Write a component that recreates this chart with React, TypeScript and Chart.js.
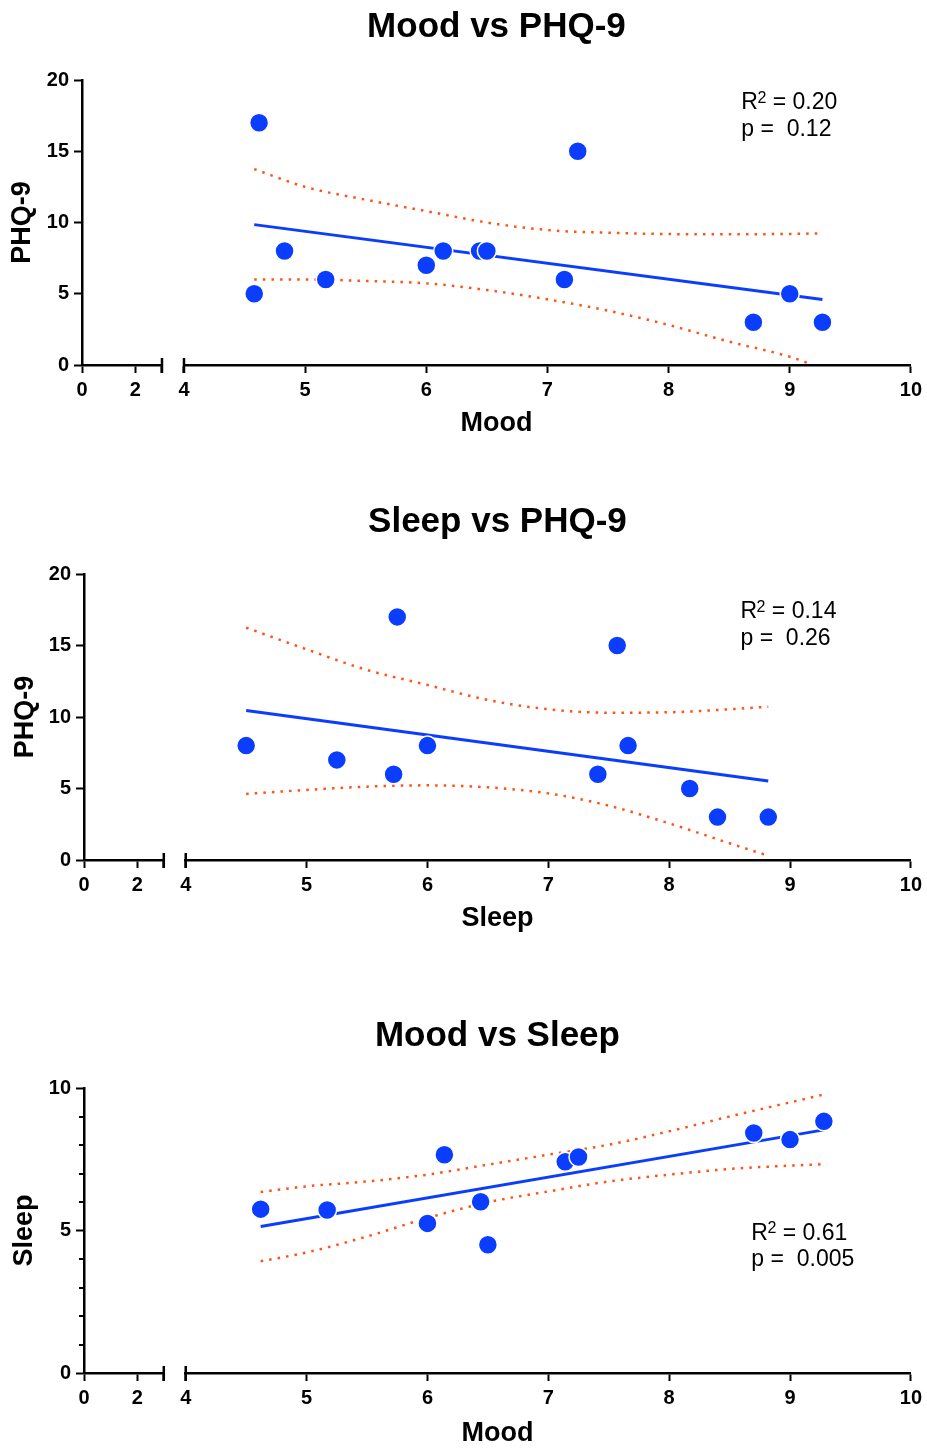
import React, { useEffect, useRef } from 'react';
import { Chart, registerables } from 'chart.js';

Chart.register(...registerables);

const FONT = '"Liberation Sans", Arial, Helvetica, sans-serif';
const BLUE = '#0b3dff';
const ORANGE = '#ff5216';

// ---------- Panel 1: Mood vs PHQ-9 ----------
const p1MoodX = [4.62, 4.58, 4.83, 5.17, 6.0, 6.14, 6.44, 6.5, 7.14, 7.25, 8.7, 9.0, 9.27];
const p1PhqY = [17, 5, 8, 6, 7, 8, 8, 8, 6, 15, 3, 5, 3];
const p1FitX = [4.58, 9.27];
const p1FitY = [9.85, 4.6];
const p1UpperX = [4.58, 5.0, 5.5, 6.0, 6.5, 7.0, 7.5, 8.0, 8.5, 9.0, 9.27];
const p1UpperY = [13.75, 12.5, 11.6, 10.8, 10.0, 9.47, 9.28, 9.19, 9.17, 9.2, 9.24];
const p1LowerX = [4.58, 5.0, 5.5, 6.0, 6.5, 7.0, 7.5, 8.0, 8.5, 9.0, 9.18];
const p1LowerY = [6.0, 6.0, 5.9, 5.73, 5.26, 4.61, 3.81, 2.81, 1.64, 0.58, 0.05];

// ---------- Panel 2: Sleep vs PHQ-9 ----------
const p2SleepX = [4.5, 5.25, 5.72, 5.75, 6.0, 7.41, 7.57, 7.66, 8.17, 8.4, 8.82];
const p2PhqY = [8, 7, 6, 17, 8, 6, 15, 8, 5, 3, 3];
const p2FitX = [4.5, 8.82];
const p2FitY = [10.45, 5.52];
const p2BandX = [4.5, 5.0, 5.5, 6.0, 6.5, 7.0, 7.5, 8.0, 8.5, 8.82];
const p2UpperY = [16.25, 14.73, 13.29, 12.24, 11.19, 10.54, 10.3, 10.33, 10.54, 10.72];
const p2LowerY = [4.62, 4.9, 5.13, 5.22, 5.08, 4.66, 3.8, 2.56, 1.17, 0.3];

// ---------- Panel 3: Mood vs Sleep ----------
const p3MoodX = [4.62, 5.17, 6.0, 6.14, 6.44, 6.5, 7.14, 7.25, 8.7, 9.0, 9.28];
const p3SleepY = [5.75, 5.72, 5.25, 7.66, 6.01, 4.5, 7.41, 7.58, 8.42, 8.19, 8.83];
const p3FitX = [4.62, 9.28];
const p3FitY = [5.14, 8.53];
const p3BandX = [4.62, 5.0, 5.5, 6.0, 6.5, 7.0, 7.5, 8.0, 8.5, 9.28];
const p3UpperY = [6.35, 6.55, 6.72, 6.96, 7.31, 7.66, 8.01, 8.48, 9.0, 9.77];
const p3LowerY = [3.92, 4.23, 4.79, 5.44, 5.99, 6.37, 6.72, 6.96, 7.16, 7.33];

// ---------- Axis ticks / texts ----------
const titles = ['Mood vs PHQ-9', 'Sleep vs PHQ-9', 'Mood vs Sleep'];
const xTitles = ['Mood', 'Sleep', 'Mood'];
const yTitles = ['PHQ-9', 'PHQ-9', 'Sleep'];
const yMaxes = [20, 20, 10];
const yMinorTicks3 = [1, 2, 3, 4, 6, 7, 8, 9];
const r2Values = ['0.20', '0.14', '0.61'];
const pValues = ['0.12', '0.26', '0.005'];
const statAnchorX = [8.6, 8.59, 8.68];
const statAnchorY = [[17.94, 16.05], [16.9, 15.03], [4.68, 3.74]];

type Layout = {
  top: number; height: number; yAxisW: number; padRight: number;
  titlePadTop: number; titlePadBottom: number; xTitleH: number; xTitlePadBottom: number; yTitlePad: number;
};

const layouts: Layout[] = [
  { top: 0, height: 445, yAxisW: 82, padRight: 16, titlePadTop: 9.5, titlePadBottom: 35.5, xTitleH: 40, xTitlePadBottom: 7.5, yTitlePad: 9.5 },
  { top: 494, height: 446, yAxisW: 84, padRight: 14, titlePadTop: 10.5, titlePadBottom: 34.5, xTitleH: 40, xTitlePadBottom: 7.5, yTitlePad: 12 },
  { top: 1008, height: 440, yAxisW: 84, padRight: 14, titlePadTop: 10.5, titlePadBottom: 34.5, xTitleH: 35, xTitlePadBottom: 0.5, yTitlePad: 11 },
];

const pts = (xs: number[], ys: number[]) => xs.map((x, i) => ({ x, y: ys[i] }));

const panelData = [
  { sx: p1MoodX, sy: p1PhqY, fx: p1FitX, fy: p1FitY, ux: p1UpperX, uy: p1UpperY, lx: p1LowerX, ly: p1LowerY, minor: [] as number[] },
  { sx: p2SleepX, sy: p2PhqY, fx: p2FitX, fy: p2FitY, ux: p2BandX, uy: p2UpperY, lx: p2BandX, ly: p2LowerY, minor: [] as number[] },
  { sx: p3MoodX, sy: p3SleepY, fx: p3FitX, fy: p3FitY, ux: p3BandX, uy: p3UpperY, lx: p3BandX, ly: p3LowerY, minor: yMinorTicks3 },
];

const decorPlugin = {
  id: 'decor',
  afterDraw(chart: any, _args: any, opts: any) {
    const ctx = chart.ctx as CanvasRenderingContext2D;
    const xs = chart.scales.x;
    const xl = chart.scales.xl;
    const ys = chart.scales.y;
    const axisY = xs.top;
    ctx.save();
    ctx.strokeStyle = '#000';
    ctx.lineWidth = 2.5;
    // axis break caps
    [xl.getPixelForValue(xl.max), xs.getPixelForValue(xs.min)].forEach((px: number) => {
      ctx.beginPath();
      ctx.moveTo(px, axisY - 7);
      ctx.lineTo(px, axisY + 8);
      ctx.stroke();
    });
    // minor y ticks
    ctx.lineWidth = 2;
    (opts.minor || []).forEach((v: number) => {
      const py = Math.round(ys.getPixelForValue(v));
      ctx.beginPath();
      ctx.moveTo(ys.right - 5, py);
      ctx.lineTo(ys.right, py);
      ctx.stroke();
    });
    // stats text
    const x0 = xs.getPixelForValue(opts.statX);
    const y1 = ys.getPixelForValue(opts.statY[0]);
    const y2 = ys.getPixelForValue(opts.statY[1]);
    ctx.fillStyle = '#000';
    ctx.textAlign = 'left';
    ctx.textBaseline = 'alphabetic';
    ctx.font = `23px ${FONT}`;
    ctx.fillText('R', x0, y1);
    const wR = ctx.measureText('R').width;
    ctx.font = `16px ${FONT}`;
    ctx.fillText('2', x0 + wR - 0.5, y1 - 6.5);
    const w2 = ctx.measureText('2').width;
    ctx.font = `23px ${FONT}`;
    ctx.fillText(` = ${opts.r2}`, x0 + wR + w2 - 0.5, y1);
    ctx.fillText(`p =  ${opts.p}`, x0, y2);
    ctx.restore();
  },
};

function Panel({ idx }: { idx: number }) {
  const ref = useRef<HTMLCanvasElement>(null);
  const L = layouts[idx];
  useEffect(() => {
    const d = panelData[idx];
    const tickFont = { family: FONT, size: 20, weight: 'bold' as const };
    const gridCommon = { display: true, drawOnChartArea: false, drawTicks: true, tickLength: 8, tickWidth: 2, tickColor: '#000' };
    const borderCommon = { display: true, color: '#000', width: 2.5 };
    const stackH = (s: any) => { s.height = 40; };
    const chart = new Chart(ref.current as HTMLCanvasElement, {
      type: 'scatter',
      data: {
        datasets: [
          {
            type: 'scatter',
            data: pts(d.sx, d.sy),
            xAxisID: 'x', yAxisID: 'y',
            pointRadius: 9.5,
            pointBackgroundColor: BLUE,
            pointBorderColor: '#ffffff',
            pointBorderWidth: 1.5,
            order: 0,
          } as any,
          {
            type: 'line',
            data: pts(d.fx, d.fy),
            xAxisID: 'x', yAxisID: 'y',
            borderColor: BLUE, borderWidth: 3, pointRadius: 0, tension: 0, fill: false,
            order: 1,
          } as any,
          {
            type: 'line',
            data: pts(d.ux, d.uy),
            xAxisID: 'x', yAxisID: 'y',
            borderColor: ORANGE, borderWidth: 2.5, borderDash: [2.5, 6.1], pointRadius: 0,
            cubicInterpolationMode: 'monotone', fill: false,
            order: 2,
          } as any,
          {
            type: 'line',
            data: pts(d.lx, d.ly),
            xAxisID: 'x', yAxisID: 'y',
            borderColor: ORANGE, borderWidth: 2.5, borderDash: [2.5, 6.1], pointRadius: 0,
            cubicInterpolationMode: 'monotone', fill: false,
            order: 3,
          } as any,
        ],
      },
      options: {
        responsive: false,
        animation: false,
        events: [],
        layout: { padding: { top: 0, left: 0, right: L.padRight, bottom: 0 } },
        plugins: {
          legend: { display: false },
          tooltip: { enabled: false },
          title: {
            display: true,
            text: titles[idx],
            fullSize: false,
            color: '#000',
            font: { family: FONT, size: 35, weight: 'bold', lineHeight: 1 },
            padding: { top: L.titlePadTop, bottom: L.titlePadBottom },
          },
          decor: {
            minor: d.minor,
            statX: statAnchorX[idx],
            statY: statAnchorY[idx],
            r2: r2Values[idx],
            p: pValues[idx],
          },
        } as any,
        scales: {
          y: {
            type: 'linear', position: 'left', min: 0, max: yMaxes[idx],
            ticks: { stepSize: 5, color: '#000', font: tickFont, padding: 5 },
            grid: gridCommon,
            border: borderCommon,
            title: {
              display: true, text: yTitles[idx], color: '#000',
              font: { family: FONT, size: 27, weight: 'bold', lineHeight: 1 },
              padding: { top: L.yTitlePad, bottom: 0 },
            },
            afterFit: (s: any) => { s.width = L.yAxisW; },
          },
          xl: {
            type: 'linear', position: 'bottom', stack: 'xbreak', stackWeight: 80,
            min: 0, max: 3,
            ticks: { stepSize: 2, color: '#000', font: tickFont, padding: 5, autoSkip: false, maxRotation: 0,
              callback: (v: any) => (v === 3 ? '' : String(v)) },
            grid: gridCommon,
            border: borderCommon,
            afterFit: stackH,
          },
          xg: {
            type: 'linear', position: 'bottom', stack: 'xbreak', stackWeight: 22,
            min: 0, max: 1,
            ticks: { display: false },
            grid: { display: false },
            border: { display: false },
            afterFit: stackH,
          },
          x: {
            type: 'linear', position: 'bottom', stack: 'xbreak', stackWeight: 727,
            min: 4, max: 10,
            ticks: { stepSize: 1, color: '#000', font: tickFont, padding: 5, autoSkip: false, maxRotation: 0 },
            grid: gridCommon,
            border: borderCommon,
            afterFit: stackH,
          },
          xt: {
            type: 'linear', position: 'bottom', weight: 5,
            min: 0, max: 1,
            ticks: { display: false },
            grid: { display: false },
            border: { display: false },
            title: {
              display: true, text: xTitles[idx], color: '#000',
              font: { family: FONT, size: 27, weight: 'bold', lineHeight: 1 },
              padding: { top: 0, bottom: L.xTitlePadBottom },
            },
            afterFit: (s: any) => { s.height = L.xTitleH; },
          },
        } as any,
      },
      plugins: [decorPlugin as any],
    });
    return () => chart.destroy();
  }, [idx]);
  return (
    <div style={{ position: 'absolute', left: 0, top: L.top, width: 927, height: L.height }}>
      <canvas ref={ref} width={927} height={L.height} style={{ display: 'block' }} />
    </div>
  );
}

export default function App() {
  return (
    <div style={{ position: 'absolute', left: 0, top: 0, width: 927, height: 1448, background: '#fff', overflow: 'hidden' }}>
      <Panel idx={0} />
      <Panel idx={1} />
      <Panel idx={2} />
    </div>
  );
}
